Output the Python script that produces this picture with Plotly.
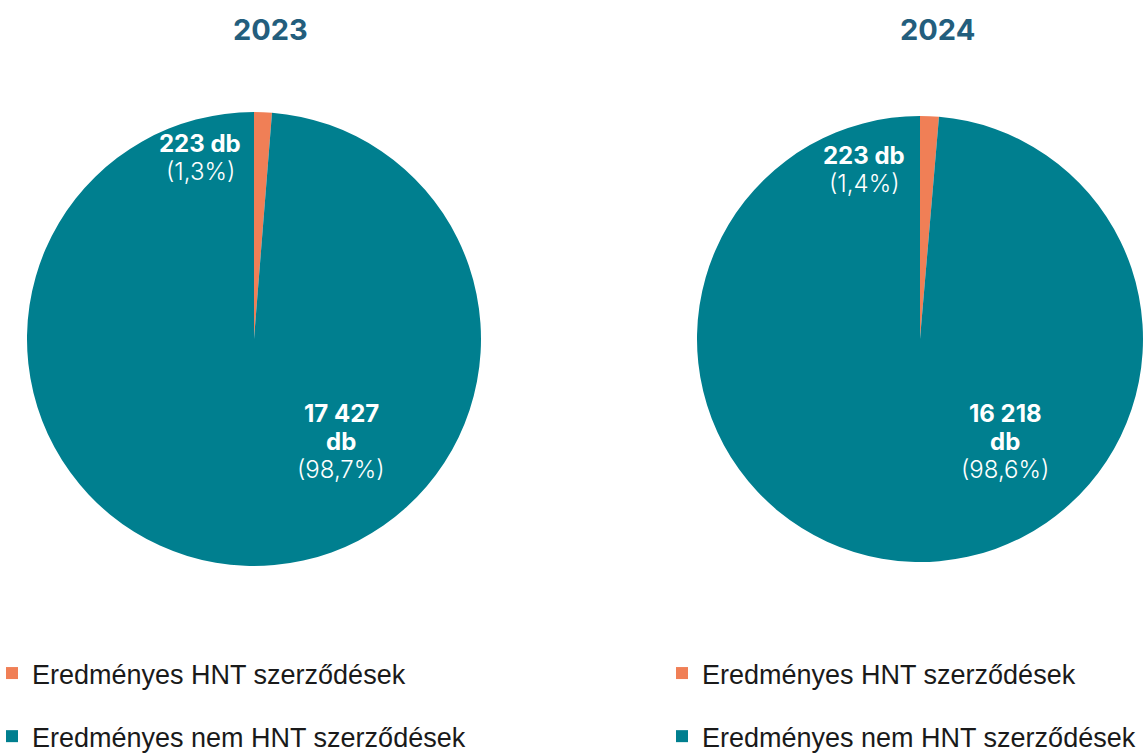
import plotly.graph_objects as go

W, H = 1143, 754

years = ["2023", "2024"]
categories = ["Eredményes HNT szerződések", "Eredményes nem HNT szerződések"]
values_2023 = [223, 17427]
values_2024 = [223, 16218]
colors = ["#F07F56", "#007F8F"]

TITLE_COLOR = "#235E7D"
LABEL_FONT = "Inter"
LEGEND_FONT = "Liberation Sans"


def fmt_num(v):
    return f"{v:,}".replace(",", " ")


def fmt_pct(v, total):
    return "(" + f"{100 * v / total:.1f}".replace(".", ",") + "%)"


def px(x, y):
    return x / W, 1 - y / H


fig = go.Figure()

# pie layout (pixel boxes)
pie_boxes = [(27, 481, 112, 566), (697, 1143, 112, 566)]
series = [values_2023, values_2024]

for i, (yr, vals) in enumerate(zip(years, series)):
    x0, x1, y0, y1 = pie_boxes[i]
    fig.add_trace(go.Pie(
        labels=categories,
        values=vals,
        sort=False,
        direction="clockwise",
        rotation=0,
        marker=dict(colors=colors, line=dict(width=0)),
        textinfo="none",
        hoverinfo="skip",
        showlegend=False,
        domain=dict(x=[x0 / W, x1 / W], y=[1 - y1 / H, 1 - y0 / H]),
        name=yr,
    ))

# legend entries (one legend per pie)
legend_names = ["legend", "legend2"]
for li, lg in enumerate(legend_names):
    for ci, (cat, col) in enumerate(zip(categories, colors)):
        fig.add_trace(go.Scatter(
            x=[None], y=[None], mode="markers",
            marker=dict(symbol="square", size=12, color=col),
            name=cat, legend=lg, legendgroup=f"{lg}_{ci}",
            hoverinfo="skip",
        ))

annotations = []
# titles
title_pos = [(270, 30), (937, 30)]
for yr, (tx, ty) in zip(years, title_pos):
    ax, ay = px(tx, ty)
    annotations.append(dict(text=f"<b>{yr}</b>", x=ax, y=ay, xref="paper", yref="paper",
                            showarrow=False, xanchor="center", yanchor="middle",
                            font=dict(family=LABEL_FONT, size=29, color=TITLE_COLOR)))

# slice labels
small_pos = [(200, 143), (864, 155)]
big_pos = [(341, 413), (1005, 413)]
for i, vals in enumerate(series):
    total = sum(vals)
    # small slice
    sx, sy = small_pos[i]
    lines = [(f"<b>{fmt_num(vals[0])} db</b>", 0), (fmt_pct(vals[0], total), 28)]
    for txt, dy in lines:
        ax, ay = px(sx, sy + dy)
        annotations.append(dict(text=txt, x=ax, y=ay, xref="paper", yref="paper",
                                showarrow=False, xanchor="center", yanchor="middle",
                                font=dict(family=LABEL_FONT, size=24, color="white",
                                          weight=700 if dy == 0 else 300)))
    bx, by = big_pos[i]
    lines = [(f"<b>{fmt_num(vals[1])}</b>", 0, 700), ("<b>db</b>", 29, 700),
             (fmt_pct(vals[1], total), 57, 300)]
    for txt, dy, wt in lines:
        ax, ay = px(bx, by + dy)
        annotations.append(dict(text=txt, x=ax, y=ay, xref="paper", yref="paper",
                                showarrow=False, xanchor="center", yanchor="middle",
                                font=dict(family=LABEL_FONT, size=24, color="white", weight=wt)))

legend_common = dict(
    orientation="v", xanchor="left", yanchor="top",
    font=dict(family=LEGEND_FONT, size=27, color="#1a1a1a"),
    bgcolor="rgba(0,0,0,0)", itemwidth=30, tracegroupgap=25,
    itemclick=False, itemdoubleclick=False,
)

fig.update_layout(
    width=W, height=H,
    margin=dict(l=0, r=0, t=0, b=0, autoexpand=False),
    paper_bgcolor="white", plot_bgcolor="white",
    xaxis=dict(visible=False), yaxis=dict(visible=False),
    annotations=annotations,
    legend=dict(x=-8 / W, y=1 - 649 / H, **legend_common),
    legend2=dict(x=662 / W, y=1 - 649 / H, **legend_common),
    hovermode=False,
)

fig.write_html(
    "out.html",
    config={"displayModeBar": False},
    post_script="document.body.style.margin='0';document.body.style.overflow='hidden';"
                "document.documentElement.style.overflow='hidden';",
)
